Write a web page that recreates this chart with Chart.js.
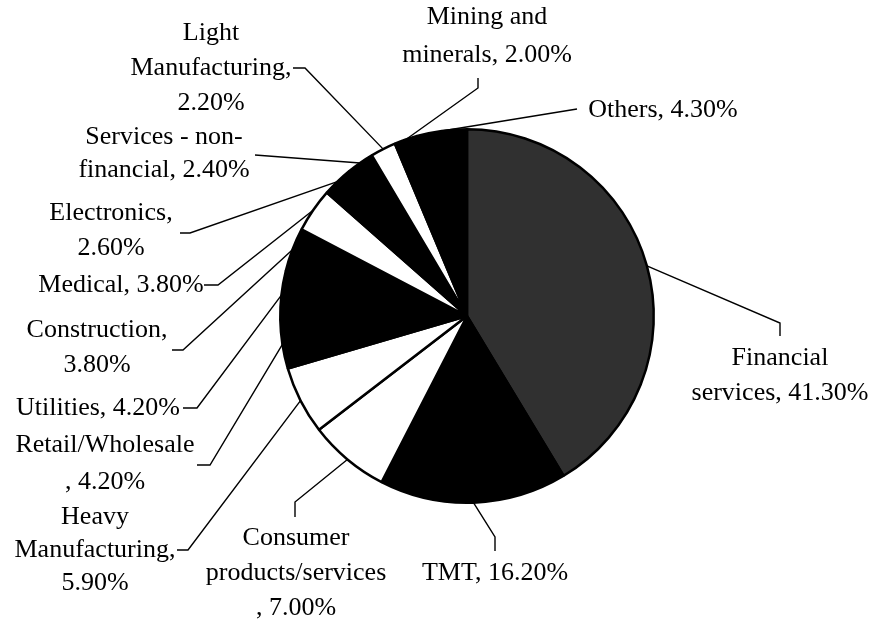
<!DOCTYPE html>
<html>
<head>
<meta charset="utf-8">
<script src="https://cdn.jsdelivr.net/npm/chart.js@4"></script>
<style>
  body { margin: 0; background: #fff; }
  canvas { display: block; }
</style>
</head>
<body>
<canvas id="sectorChart" width="875" height="621"></canvas>
<script>
// data, clockwise from 12 o'clock
const sectors = [
  'Financial services', 'TMT', 'Consumer products/services', 'Heavy Manufacturing',
  'Retail/Wholesale', 'Utilities', 'Construction', 'Medical', 'Electronics',
  'Services - non-financial', 'Light Manufacturing', 'Mining and minerals', 'Others'
];
const shares = [41.3, 16.2, 7.0, 5.9, 4.2, 4.2, 3.8, 3.8, 2.6, 2.4, 2.2, 2.0, 4.3];

// how each label is wrapped in the picture ({v} = the share)
const labelLines = [
  ['Financial', 'services, {v}'],
  ['TMT, {v}'],
  ['Consumer', 'products/services', ', {v}'],
  ['Heavy', 'Manufacturing,', '{v}'],
  ['Retail/Wholesale', ', {v}'],
  ['Utilities, {v}'],
  ['Construction,', '{v}'],
  ['Medical, {v}'],
  ['Electronics,', '{v}'],
  ['Services - non-', 'financial, {v}'],
  ['Light', 'Manufacturing,', '{v}'],
  ['Mining and', 'minerals, {v}'],
  ['Others, {v}']
];

// styling
const sliceColors = ['#303030', '#000', '#fff', '#fff', '#000', '#000', '#000',
  '#fff', '#000', '#000', '#fff', '#000', '#000'];

// label placement: text centre x, first line y, line gap, leader points before the slice edge
const labelLayout = [
  { x: 780, y: 358, gap: 35, lead: [[780, 336], [780, 323]] },
  { x: 495, y: 573, gap: 35, lead: [[495, 551], [495, 537]] },
  { x: 296, y: 538, gap: 35, lead: [[295, 517], [295, 502]] },
  { x: 95,  y: 517, gap: 33, lead: [[177, 550], [188, 550]] },
  { x: 105, y: 445, gap: 37, lead: [[197, 465], [210, 465]] },
  { x: 98,  y: 408, gap: 35, lead: [[183, 408], [197, 408]] },
  { x: 97,  y: 330, gap: 35, lead: [[172, 350], [183, 350]] },
  { x: 121, y: 285, gap: 35, lead: [[204, 285], [218, 285]] },
  { x: 111, y: 213, gap: 35, lead: [[180, 233], [190, 233]] },
  { x: 164, y: 137, gap: 33, lead: [[255, 155]] },
  { x: 211, y: 33,  gap: 35, lead: [[293, 68], [305, 68]] },
  { x: 487, y: 17,  gap: 38, lead: [[478, 78], [478, 88]] },
  { x: 663, y: 110, gap: 35, lead: [[577, 109]] }
];

const calloutPlugin = {
  id: 'callouts',
  afterDraw(chart) {
    const ctx = chart.ctx;
    const arcs = chart.getDatasetMeta(0).data;
    ctx.save();
    ctx.strokeStyle = '#000';
    ctx.lineWidth = 1.4;
    ctx.fillStyle = '#000';
    ctx.font = '26px "Liberation Serif", "Times New Roman", serif';
    ctx.textAlign = 'center';
    ctx.textBaseline = 'middle';
    arcs.forEach((arc, i) => {
      const p = arc.getProps(['x', 'y', 'startAngle', 'endAngle', 'outerRadius'], true);
      const mid = (p.startAngle + p.endAngle) / 2;
      const ex = p.x + Math.cos(mid) * p.outerRadius;
      const ey = p.y + Math.sin(mid) * p.outerRadius;
      const lay = labelLayout[i];
      ctx.beginPath();
      lay.lead.forEach((pt, k) => k === 0 ? ctx.moveTo(pt[0], pt[1]) : ctx.lineTo(pt[0], pt[1]));
      ctx.lineTo(ex, ey);
      ctx.stroke();
      const v = shares[i].toFixed(2) + '%';
      labelLines[i].forEach((line, k) => {
        ctx.fillText(line.replace('{v}', v), lay.x, lay.y + k * lay.gap);
      });
    });
    ctx.restore();
  }
};

new Chart(document.getElementById('sectorChart').getContext('2d'), {
  type: 'pie',
  data: {
    labels: sectors,
    datasets: [{
      data: shares,
      backgroundColor: sliceColors,
      borderColor: '#000',
      borderWidth: 2.5
    }]
  },
  options: {
    responsive: false,
    animation: false,
    layout: { padding: { left: 279, right: 220, top: 128, bottom: 117 } },
    plugins: {
      legend: { display: false },
      tooltip: { enabled: false }
    }
  },
  plugins: [calloutPlugin]
});
</script>
</body>
</html>
